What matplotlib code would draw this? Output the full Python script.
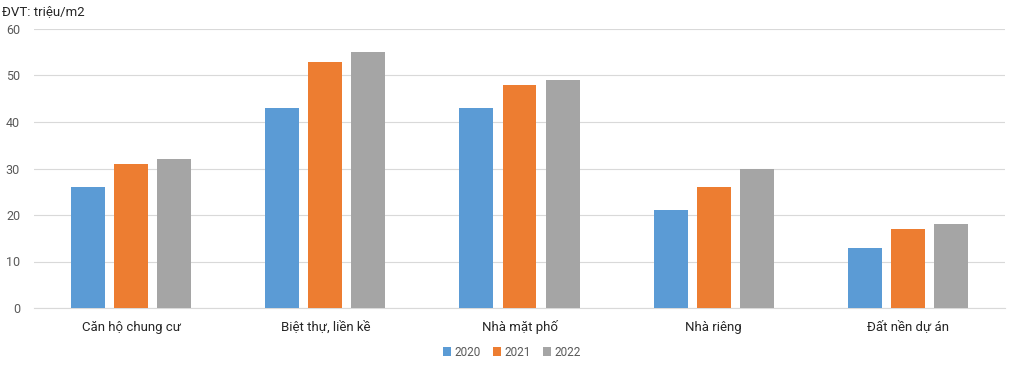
import numpy as np
import matplotlib
matplotlib.use("Agg")
import matplotlib.pyplot as plt

plt.rcParams['font.family'] = ['Roboto', 'DejaVu Sans']

categories = ["Căn hộ chung cư", "Biệt thự, liền kề", "Nhà mặt phố", "Nhà riêng", "Đất nền dự án"]
years = ["2020", "2021", "2022"]
v2020 = [26, 43, 43, 21, 13]
v2021 = [31, 53, 48, 26, 17]
v2022 = [32, 55, 49, 30, 18]
colors = ["#5b9bd5", "#ed7d31", "#a5a5a5"]

fig = plt.figure(figsize=(10.12, 3.65), dpi=100)
ax = fig.add_axes([34/1012, 57/365, 971/1012, 279/365])

x = np.arange(len(categories))
w = 0.175
step = 0.222
for i, (vals, lab) in enumerate(zip([v2020, v2021, v2022], years)):
    ax.bar(x + (i - 1) * step, vals, width=w, color=colors[i], label=lab, zorder=3)

ax.set_xlim(-0.5, len(categories) - 0.5)
ax.set_ylim(0, 60)
ax.set_yticks(range(0, 61, 10))
ax.grid(axis='y', color='#d9d9d9', linewidth=0.8, zorder=0)
for s in ['top', 'right', 'left']:
    ax.spines[s].set_visible(False)
ax.spines['bottom'].set_color('#d9d9d9')
ax.tick_params(axis='y', length=0, labelsize=9, labelcolor='#595959', pad=10)
ax.tick_params(axis='x', length=0, labelsize=9.5, labelcolor='#262626', pad=9)
ax.set_xticks(x)
ax.set_xticklabels(categories)

fig.text(2/1012, 1 - 12/365, "ĐVT: triệu/m2", fontsize=9.5, color='#262626', va='center', ha='left')

fig.legend(loc='center', bbox_to_anchor=(512/1012, 1 - 352/365), ncol=3, frameon=False,
           fontsize=8.5, handlelength=0.7, handleheight=0.7, handletextpad=0.3,
           columnspacing=1.0, labelcolor='#595959')

fig.savefig("out.png", dpi=100)
